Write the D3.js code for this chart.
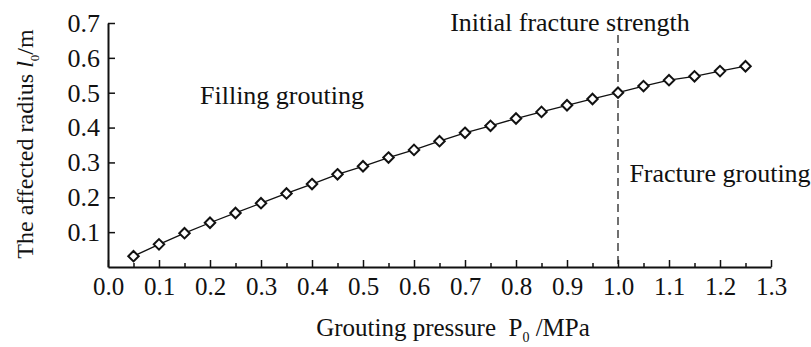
<!DOCTYPE html>
<html>
<head>
<meta charset="utf-8">
<script src="https://cdn.jsdelivr.net/npm/d3@7"></script>
<style>
  body { margin: 0; background: #fff; }
</style>
</head>
<body>
<div id="chart"></div>
<script>
const pressure = [0.05, 0.10, 0.15, 0.20, 0.25, 0.30, 0.35, 0.40, 0.45, 0.50,
                  0.55, 0.60, 0.65, 0.70, 0.75, 0.80, 0.85, 0.90, 0.95, 1.00,
                  1.05, 1.10, 1.15, 1.20, 1.25];
const radius = [0.031, 0.065, 0.097, 0.127, 0.155, 0.183, 0.211, 0.238, 0.266, 0.289,
                0.314, 0.336, 0.361, 0.385, 0.405, 0.426, 0.445, 0.464, 0.482, 0.500,
                0.519, 0.536, 0.547, 0.562, 0.576];
const xTicks = [0.0, 0.1, 0.2, 0.3, 0.4, 0.5, 0.6, 0.7, 0.8, 0.9, 1.0, 1.1, 1.2, 1.3];
const xMinorTicks = [0.05, 0.15, 0.25, 0.35, 0.45, 0.55, 0.65, 0.75, 0.85, 0.95, 1.05, 1.15, 1.25];
const yTicks = [0.1, 0.2, 0.3, 0.4, 0.5, 0.6, 0.7];
const fractureStrength = 1.0;

const serif = '"Liberation Serif", "Times New Roman", serif';
const ink = '#111';

const outerWidth = 811;
const outerHeight = 347;
const margin = { top: 23, right: 40, bottom: 80, left: 108 };
const width = outerWidth - margin.left - margin.right;
const height = outerHeight - margin.top - margin.bottom;

const svg = d3.select('#chart').append('svg')
    .attr('width', outerWidth)
    .attr('height', outerHeight)
    .style('font-family', serif);

const g = svg.append('g')
    .attr('transform', `translate(${margin.left}, ${margin.top})`);

const x = d3.scaleLinear().domain([0, 1.3]).range([0, width]);
const y = d3.scaleLinear().domain([0, 0.7]).range([height, 0]);

// x axis, ticks pointing inward
const gx = g.append('g')
    .attr('transform', `translate(0, ${height})`)
    .call(d3.axisBottom(x).tickValues(xTicks).tickFormat(d3.format('.1f'))
        .tickSizeInner(-7).tickSizeOuter(0).tickPadding(10));
g.append('g')
    .attr('transform', `translate(0, ${height})`)
    .call(d3.axisBottom(x).tickValues(xMinorTicks).tickFormat('')
        .tickSizeInner(-4).tickSizeOuter(0))
    .select('.domain').remove();

const gy = g.append('g')
    .call(d3.axisLeft(y).tickValues(yTicks).tickFormat(d3.format('.1f'))
        .tickSizeInner(-7).tickSizeOuter(0).tickPadding(8));

gx.selectAll('text').style('font-size', '25px');
gy.selectAll('text').style('font-size', '26px');
[gx, gy].forEach(a => {
    a.selectAll('text').attr('fill', ink).style('font-family', serif);
    a.select('.domain').attr('stroke', ink).attr('stroke-width', 2);
});
g.selectAll('.tick line').attr('stroke', ink).attr('stroke-width', 1.5);

// fracture strength marker
g.append('line')
    .attr('x1', x(fractureStrength)).attr('x2', x(fractureStrength))
    .attr('y1', 12).attr('y2', height)
    .attr('stroke', ink).attr('stroke-width', 1.2)
    .attr('stroke-dasharray', '8,5');

const points = pressure.map((p, i) => [p, radius[i]]);

g.append('path')
    .datum(points)
    .attr('fill', 'none')
    .attr('stroke', ink)
    .attr('stroke-width', 1.3)
    .attr('d', d3.line().x(d => x(d[0])).y(d => y(d[1])));

g.selectAll('.marker')
    .data(points)
    .enter().append('path')
    .attr('class', 'marker')
    .attr('transform', d => `translate(${x(d[0])}, ${y(d[1])})`)
    .attr('d', d3.symbol().type(d3.symbolDiamond2).size(70))
    .attr('fill', '#fff')
    .attr('stroke', ink)
    .attr('stroke-width', 2);

// annotations
const notes = [
    { text: 'Initial fracture strength', x: 570, y: 31 },
    { text: 'Filling grouting', x: 282, y: 104 },
    { text: 'Fracture grouting', x: 720, y: 182 }
];
svg.selectAll('.note')
    .data(notes)
    .enter().append('text')
    .attr('class', 'note')
    .attr('x', d => d.x).attr('y', d => d.y)
    .attr('text-anchor', 'middle')
    .attr('fill', ink)
    .style('font-size', '26px')
    .text(d => d.text);

// axis titles
const xt = svg.append('text')
    .attr('x', 453).attr('y', 336)
    .attr('text-anchor', 'middle')
    .attr('fill', ink)
    .style('font-size', '25px');
xt.append('tspan').text('Grouting pressure\u00a0\u00a0P');
xt.append('tspan').style('font-size', '14px').attr('dy', 6).text('0');
xt.append('tspan').attr('dy', -6).text('\u00a0/MPa');

const yt = svg.append('text')
    .attr('transform', 'translate(33, 144) rotate(-90)')
    .attr('text-anchor', 'middle')
    .attr('fill', ink)
    .style('font-size', '24px');
yt.append('tspan').text('The affected radius ');
yt.append('tspan').style('font-style', 'italic').text('l');
yt.append('tspan').style('font-size', '13px').attr('dy', 6).text('0');
yt.append('tspan').attr('dy', -6).text('/m');
</script>
</body>
</html>
